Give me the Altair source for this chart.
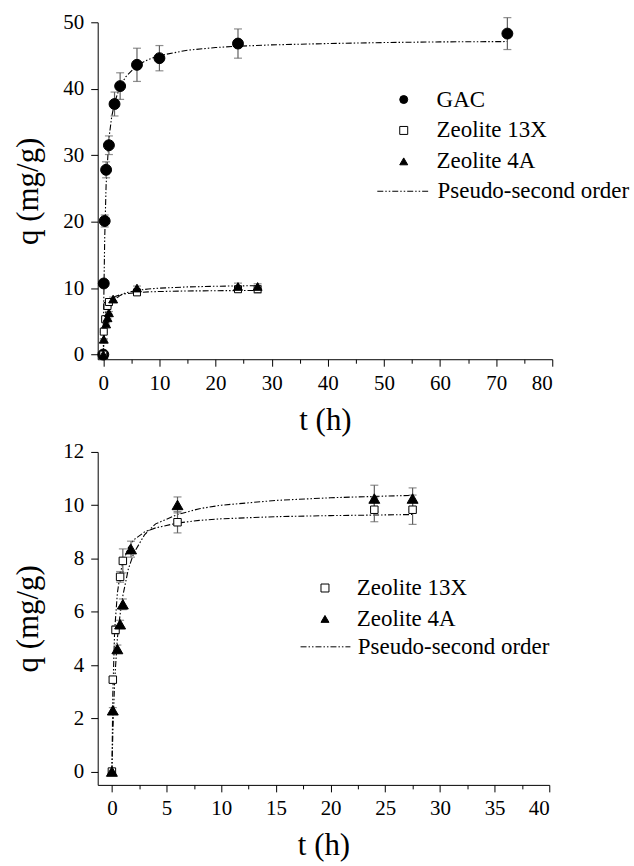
import altair as alt
import pandas as pd

FONT = "Liberation Serif"

gac_t = [0, 0.083, 0.25, 0.5, 1, 2, 3, 6, 10, 24, 72]
gac_q = [0, 10.7, 20.1, 27.8, 31.5, 37.7, 40.4, 43.6, 44.6, 46.8, 48.3]
gac_e = [0, 0.5, 0.9, 1.2, 1.4, 1.8, 2.0, 2.5, 1.9, 2.2, 2.4]

x13_t = [0, 0.083, 0.33, 0.75, 1, 6, 24, 27.5]
x13_q = [0, 3.45, 5.32, 7.31, 7.91, 9.36, 9.83, 9.83]
x13_e = [0, 0.1, 0.15, 0.2, 0.45, 0.4, 0.45, 0.55]

a4_t = [0, 0.083, 0.5, 0.75, 1, 1.75, 6, 24, 27.5]
a4_q = [0, 2.3, 4.6, 5.53, 6.28, 8.35, 10.01, 10.25, 10.25]
a4_e = [0, 0.1, 0.15, 0.15, 0.2, 0.3, 0.3, 0.5, 0.4]

# ---- pseudo-second order fitted curves ----
fit_gac_t = [0, 0.083, 0.25, 0.5, 1, 1.5, 2, 3, 4, 6, 8, 10, 15, 20, 24, 30, 40, 50, 60, 72]
fit_gac_q = [0, 8.0, 17.5, 25.5, 32.5, 35.8, 37.9, 40.4, 41.8, 43.5, 44.4, 45.0, 45.8, 46.2,
             46.4, 46.6, 46.8, 46.95, 47.05, 47.1]
fit_x13_t = [0, 0.083, 0.25, 0.5, 0.75, 1, 1.5, 2, 3, 4, 6, 8, 10, 15, 20, 24, 27.5]
fit_x13_q = [0, 2.9, 5.3, 6.7, 7.4, 7.85, 8.4, 8.7, 9.0, 9.15, 9.33, 9.43, 9.49, 9.57, 9.61, 9.63, 9.65]
fit_a4_t = [0, 0.083, 0.25, 0.5, 0.75, 1, 1.5, 2, 3, 4, 6, 8, 10, 15, 20, 24, 27.5]
fit_a4_q = [0, 1.4, 3.4, 5.0, 5.9, 6.6, 7.6, 8.2, 8.9, 9.3, 9.65, 9.87, 10.0, 10.18, 10.28, 10.33, 10.37]

series_names = ["GAC", "Zeolite 13X", "Zeolite 4A"]
fit_name = "Pseudo-second order"

SRC = {"GAC": (gac_t, gac_q, gac_e), "Zeolite 13X": (x13_t, x13_q, x13_e),
       "Zeolite 4A": (a4_t, a4_q, a4_e)}
FIT = {"GAC": (fit_gac_t, fit_gac_q), "Zeolite 13X": (fit_x13_t, fit_x13_q),
       "Zeolite 4A": (fit_a4_t, fit_a4_q)}


def points_df(n):
    t, q, e = SRC[n]
    return pd.DataFrame({"series": n, "t": t, "q": q,
                         "lo": [a - b for a, b in zip(q, e)],
                         "hi": [a + b for a, b in zip(q, e)], "e": e})


def fit_df(names):
    rows = []
    for n in names:
        t, q = FIT[n]
        for ti, qi in zip(t, q):
            rows.append({"series": n, "t": ti, "q": qi, "kind": fit_name})
    return pd.DataFrame(rows)


shape_map = {"GAC": "circle", "Zeolite 13X": "square", "Zeolite 4A": "triangle-up"}
fill_map = {"GAC": "black", "Zeolite 13X": "white", "Zeolite 4A": "black"}


def panel(names, xdom, xstep, xmajor, ydom, ystep, ymajor, w, h, sizes,
          leg_x, leg_y, line_x, line_y, line_len, sym_off, line_off):
    fits = fit_df(names)
    xvals = [round(v * xstep, 4) for v in range(0, int(xdom[1] / xstep) + 1)]
    yvals = [round(v * ystep, 4) for v in range(0, int(ydom[1] / ystep) + 1)]
    common = dict(labelFont=FONT, titleFont=FONT, labelFontSize=21, titleFontSize=31,
                  titleFontWeight="normal", grid=False)
    xaxis = alt.Axis(values=xvals, title="t (h)",
                     labelExpr=f"datum.value % {xmajor} === 0 ? datum.label : ''",
                     tickSize={"condition": {"test": f"datum.value % {xmajor} === 0", "value": 7}, "value": 4},
                     **common)
    yaxis = alt.Axis(values=yvals, title="q (mg/g)",
                     labelExpr=f"datum.value % {ymajor} === 0 ? datum.label : ''",
                     tickSize={"condition": {"test": f"datum.value % {ymajor} === 0", "value": 7}, "value": 4},
                     **common)
    x = alt.X("t:Q", scale=alt.Scale(domain=xdom, nice=False, zero=False), axis=xaxis)
    y = alt.Y("q:Q", scale=alt.Scale(domain=ydom, nice=False, zero=False), axis=yaxis)

    leg = alt.Legend(title=None, orient="none", legendX=leg_x, legendY=leg_y,
                     labelFont=FONT, labelFontSize=23,
                     symbolSize=64, symbolStrokeColor="black", symbolStrokeWidth=1,
                     labelOffset=sym_off, padding=0, labelLimit=400)
    line_leg = alt.Legend(title=None, orient="none", legendX=line_x, legendY=line_y,
                          labelFont=FONT, labelFontSize=23,
                          symbolType="stroke", symbolSize=line_len * line_len,
                          symbolStrokeColor="black", symbolStrokeWidth=1,
                          labelOffset=line_off, padding=0, labelLimit=400)
    shape_enc = alt.Shape("series:N", scale=alt.Scale(domain=names, range=[shape_map[n] for n in names]),
                          legend=leg)
    fill_enc = alt.Fill("series:N", scale=alt.Scale(domain=names, range=[fill_map[n] for n in names]),
                        legend=leg)
    stroke_enc = alt.Stroke("series:N", scale=alt.Scale(domain=names, range=["black"] * len(names)),
                            legend=leg)

    layers = [alt.Chart(fits).mark_line(color="black", strokeWidth=1.1).encode(
        x=x, y=y, detail="series:N",
        strokeDash=alt.StrokeDash("kind:N", scale=alt.Scale(domain=[fit_name], range=[[6, 2, 1.5, 2, 1.5, 2]]),
                                  legend=line_leg),
    )]
    for n in names:
        pts = points_df(n)
        errs = pts[pts["e"] > 0]
        layers.append(alt.Chart(errs).mark_rule(color="#606060", strokeWidth=1.2).encode(
            x=x, y=alt.Y("lo:Q"), y2="hi:Q"))
        layers.append(alt.Chart(errs).transform_fold(["lo", "hi"], as_=["end", "val"]).mark_tick(
            orient="horizontal", color="#606060", size=8, thickness=1.2).encode(
            x=x, y=alt.Y("val:Q")))
    for n, s in zip(names, sizes):
        layers.append(alt.Chart(points_df(n)).mark_point(
            filled=True, strokeWidth=1, opacity=1, fillOpacity=1, size=s).encode(
            x=x, y=y, shape=shape_enc, fill=fill_enc, stroke=stroke_enc))
    return alt.layer(*layers).properties(width=w, height=h)


top = panel(series_names, [-1, 80], 5, 10, [-0.7, 50], 5, 10, 456, 338, [120, 49, 80],
            295.5, 66, 280, 143, 52, 21.5, 8)
bottom = panel(["Zeolite 13X", "Zeolite 4A"], [-1.3, 40], 2.5, 5, [-0.5, 12], 1, 2, 453, 334, [56, 120],
               216.5, 125, 203, 170, 50, 20.5, 7)

chart = alt.vconcat(top, bottom, spacing=6).resolve_scale(
    shape="independent", fill="independent", stroke="independent", strokeDash="independent"
).resolve_legend(shape="independent", fill="independent", stroke="independent",
                 strokeDash="independent").properties(
    padding={"left": 13, "top": 10, "right": 4, "bottom": 0}
).configure(font=FONT).configure_axis(
    labelFont=FONT, titleFont=FONT, labelColor="black", titleColor="black",
    domainColor="black", tickColor="black"
).configure_axisX(labelPadding=6, titlePadding=12).configure_axisY(
    labelPadding=7, titlePadding=18
).configure_legend(labelFont=FONT, labelColor="black", rowPadding=7).configure_view(stroke=None)

chart.save("out.html", embed_options={"renderer": "svg", "actions": False})
